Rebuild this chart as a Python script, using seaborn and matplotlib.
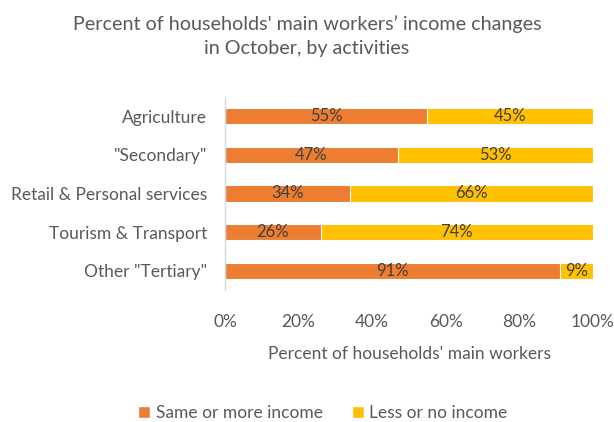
import matplotlib
matplotlib.use("Agg")
import matplotlib.pyplot as plt
import seaborn as sns
import pandas as pd
from matplotlib.patches import Patch

categories = ["Agriculture", "\"Secondary\"", "Retail & Personal services",
              "Tourism & Transport", "Other \"Tertiary\""]
same_or_more = [55, 47, 34, 26, 91]
less_or_none = [45, 53, 66, 74, 9]
x_ticks = [0, 20, 40, 60, 80, 100]

ORANGE = "#ED7D31"
GOLD = "#FFC000"
GRAY = "#595959"

sns.set_theme(style="white")
plt.rcParams["font.family"] = ["Lato", "DejaVu Sans"]

df = pd.DataFrame({
    "category": categories,
    "same": same_or_more,
    "less": less_or_none,
})
df["total"] = df["same"] + df["less"]

fig = plt.figure(figsize=(6.14, 4.22), dpi=100)
ax = fig.add_axes([225 / 614, 1 - 290 / 422, (593 - 225) / 614, (290 - 97) / 422])

sns.barplot(data=df, x="total", y="category", color=GOLD, orient="h",
            width=0.42, ax=ax, edgecolor="white", linewidth=0.8, saturation=1)
sns.barplot(data=df, x="same", y="category", color=ORANGE, orient="h",
            width=0.42, ax=ax, edgecolor="white", linewidth=0.8, saturation=1)

for i, (s, l) in enumerate(zip(df["same"], df["less"])):
    ax.text(s / 2, i, f"{s}%", ha="center", va="center", fontsize=12, color="#404040")
    ax.text(s + l / 2, i, f"{l}%", ha="center", va="center", fontsize=12, color="#404040")

ax.set_xlim(0, 100)
ax.set_ylim(4.5, -0.5)
ax.set_xticks(x_ticks)
ax.set_xticklabels([f"{t}%" for t in x_ticks], fontsize=12.5, color=GRAY)
ax.tick_params(axis="x", length=0, pad=17)
ax.tick_params(axis="y", length=0, pad=13, labelsize=12.5, labelcolor=GRAY)
ax.set_ylabel("")
ax.set_xlabel("Percent of households' main workers", fontsize=12.5, color=GRAY, labelpad=12)

for side in ["top", "right", "bottom"]:
    ax.spines[side].set_visible(False)
ax.spines["left"].set_color("#D9D9D9")
ax.spines["left"].set_linewidth(1.0)

fig.text(0.5, 1 - 36 / 422, "Percent of households' main workers\u2019 income changes\nin October, by activities",
         ha="center", va="center", fontsize=14.2, color=GRAY, linespacing=1.45)

handles = [Patch(facecolor=ORANGE, label="Same or more income"),
           Patch(facecolor=GOLD, label="Less or no income")]
fig.legend(handles=handles, loc="center", bbox_to_anchor=(323 / 614, 1 - 413 / 422),
           ncol=2, frameon=False, fontsize=12.5, labelcolor=GRAY,
           handlelength=0.7, handleheight=0.7, handletextpad=0.3, columnspacing=1.7)

fig.savefig("out.png", dpi=100)
